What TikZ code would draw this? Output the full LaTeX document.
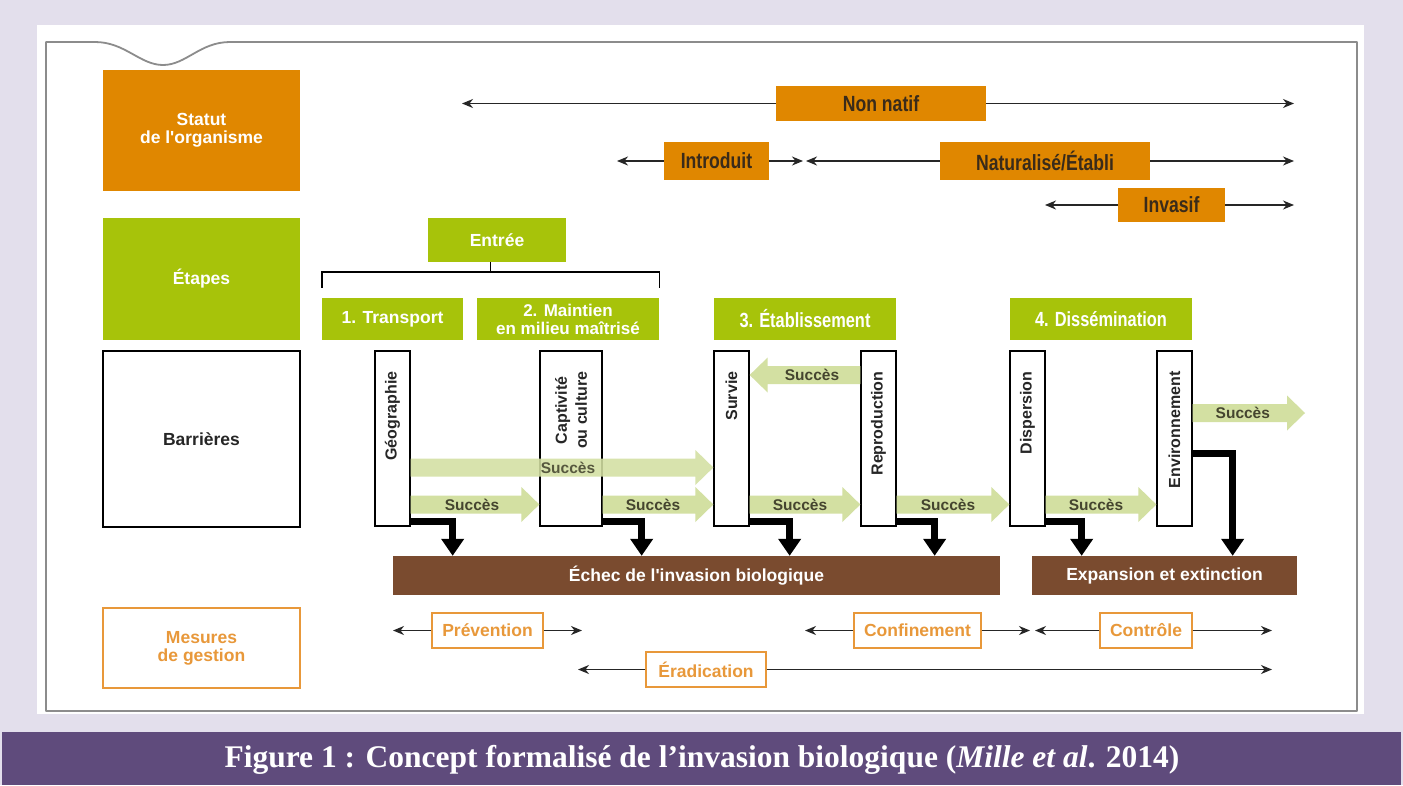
\documentclass[tikz,border=0pt]{standalone}
\usepackage{fontspec}
\usetikzlibrary{arrows.meta,calc}
\newfontfamily\dsans{Liberation Sans}
\newfontfamily\dcond[FakeStretch=0.8]{Liberation Sans}
\newfontfamily\capfont{Liberation Serif}
\definecolor{cBg}{HTML}{E3DFEC}
\definecolor{cPurple}{HTML}{5F4B7C}
\definecolor{cOrange}{HTML}{E08700}
\definecolor{cGreen}{HTML}{A7C30A}
\definecolor{cLight}{HTML}{D3E0A2}
\definecolor{cBrown}{HTML}{7A4B2F}
\definecolor{cMgmt}{HTML}{E8983A}
\definecolor{cDark}{HTML}{3A2B1A}
\definecolor{cFrame}{HTML}{8C8C8C}
\definecolor{cText}{HTML}{262626}
\definecolor{cSucc}{HTML}{45452F}
% green success arrow, rightwards: #1 start anchor, #2 tip anchor, #3 y (px), #4 label x offset
\newcommand\SuccR[4]{%
  \fill[cLight] let \p1=(#1), \p2=(#2) in
    (\x1,-#3pt+9pt) -- (\x2-18pt,-#3pt+9pt) -- (\x2-18pt,-#3pt+17.5pt) -- (\x2,-#3pt)
    -- (\x2-18pt,-#3pt-17.5pt) -- (\x2-18pt,-#3pt-9pt) -- (\x1,-#3pt-9pt) -- cycle;
  \path let \p1=(#1), \p2=(#2) in ({0.5*\x1+0.5*\x2+#4pt},-#3pt) node[succlbl] {Succès};
}
% leftwards
\newcommand\SuccL[4]{%
  \fill[cLight] let \p1=(#1), \p2=(#2) in
    (\x1,-#3pt+9pt) -- (\x2+18pt,-#3pt+9pt) -- (\x2+18pt,-#3pt+17.5pt) -- (\x2,-#3pt)
    -- (\x2+18pt,-#3pt-17.5pt) -- (\x2+18pt,-#3pt-9pt) -- (\x1,-#3pt-9pt) -- cycle;
  \path let \p1=(#1), \p2=(#2) in ({0.5*\x1+0.5*\x2+#4pt},-#3pt) node[succlbl] {Succès};
}
% black failure arrow: #1 box, #2 bar, #3 horizontal run, #4 height above box bottom
\newcommand\FailArr[4]{%
  \draw[fail] let \p1=(#1.south east), \p2=(#2.north) in (\x1,\y1+#4pt) -| (\x1+#3pt,\y2);
}
\begin{document}
\begin{tikzpicture}[x=1pt,y=1pt,
  lbl/.style={inner sep=0pt, align=center, font=\dsans\bfseries\fontsize{17.5}{18}\selectfont},
  statbox/.style={lbl, fill=cOrange, text=white},
  stepbox/.style={lbl, fill=cGreen, text=white},
  topbox/.style={fill=cOrange, text=cDark, inner sep=0pt, font=\dcond\bfseries\fontsize{22}{24}\selectfont},
  hdrcond/.style={fill=cGreen, text=white, inner sep=0pt, font=\dcond\bfseries\fontsize{20.5}{22}\selectfont},
  barrbox/.style={draw=black, line width=1.3pt, fill=white, inner sep=0pt},
  vtxt/.style={rotate=90, anchor=east, inner sep=0pt, align=center, text=cText, font=\dsans\bfseries\fontsize{16}{20}\selectfont},
  barbox/.style={lbl, fill=cBrown, text=white},
  mgmt/.style={lbl, draw=cMgmt, line width=1.4pt, text=cMgmt, fill=white},
  succlbl/.style={inner sep=0pt, text=cSucc, font=\dsans\bfseries\fontsize{15.5}{16}\selectfont},
  fail/.style={draw=black, line width=7pt, -{Triangle[width=22pt,length=17pt]}},
  tarr/.style={draw=cText, line width=1.3pt, -{Stealth[length=11pt,width=9pt,inset=3.5pt]}},
  brk/.style={draw=black, line width=1.4pt}
]
% background
\fill[cBg] (0,0) rectangle (1403,-785);
\useasboundingbox (0,0) rectangle (1403,-785);
\fill[white] (37,-25) rectangle (1364,-714);
\draw[cFrame, line width=1.8pt, line join=round]
  (46,-42) -- (95,-42) .. controls (125,-42) and (140,-65) .. (163,-65)
  .. controls (186,-65) and (200,-42) .. (230,-42) -- (1357,-42) -- (1357,-711) -- (46,-711) -- cycle;
\fill[cPurple] (2,-732) rectangle (1401,-785);
\node[inner sep=0pt, text=white, font=\capfont\bfseries\fontsize{31.5}{33}\selectfont] (cap) at (702,-760)
  {Figure 1 : Concept formalisé de l’invasion biologique (\textit{Mille et al}. 2014)};

% left column
\node[statbox, minimum width=197pt, minimum height=121pt] (statut) at (201.5,-130.5) {Statut\\de l'organisme};
\node[stepbox, minimum width=197pt, minimum height=122pt] (etapes) at (201.5,-279) {Étapes};
\node[lbl, draw=black, line width=1.3pt, text=cText, minimum width=197pt, minimum height=176pt] (barr) at (201.5,-439) {Barrières};
\node[mgmt, minimum width=197pt, minimum height=80pt] (mesures) at (201.5,-648) {Mesures\\de gestion};

% status
\node[topbox, minimum width=210pt, minimum height=35pt] (nonnatif) at (881,-103.5) {Non natif};
\node[topbox, minimum width=105pt, minimum height=38pt] (introduit) at (716.5,-161) {Introduit};
\node[topbox, minimum width=210pt, minimum height=38pt] (natur) at (1045,-161) {Naturalisé/Établi};
\node[topbox, minimum width=107pt, minimum height=34pt] (invasif) at (1171.5,-205) {Invasif};
\coordinate (nnL) at (462,-103.5); \coordinate (nnR) at (1294,-103.5);
\coordinate (inL) at (617,-161);   \coordinate (inR) at (803,-161);
\coordinate (naL) at (806,-161);   \coordinate (naR) at (1294,-161);
\coordinate (ivL) at (1045,-205);  \coordinate (ivR) at (1294,-205);
\draw[tarr] (nonnatif.west) -- (nnL);
\draw[tarr] (nonnatif.east) -- (nnR);
\draw[tarr] (introduit.west) -- (inL);
\draw[tarr] (introduit.east) -- (inR);
\draw[tarr] (natur.west) -- (naL);
\draw[tarr] (natur.east) -- (naR);
\draw[tarr] (invasif.west) -- (ivL);
\draw[tarr] (invasif.east) -- (ivR);

% stages
\node[stepbox, minimum width=138pt, minimum height=44pt] (entree) at (497,-240) {Entrée};
\node[stepbox, minimum width=141pt, minimum height=42pt] (transport) at (392.5,-319) {1. Transport};
\node[stepbox, minimum width=182pt, minimum height=42pt, font=\dsans\bfseries\fontsize{17}{18}\selectfont] (maintien) at (568,-319) {2. Maintien\\en milieu maîtrisé};
\node[hdrcond, minimum width=182pt, minimum height=42pt] (etab) at (805,-319) {3. Établissement};
\node[hdrcond, minimum width=182pt, minimum height=42pt] (dissem) at (1101,-319) {4. Dissémination};
\coordinate (brkmid) at ($(transport.north west)!0.5!(maintien.north east)+(0,26pt)$);
\draw[brk] ([yshift=10pt]transport.north west) -- ++(0,16pt) -| ([yshift=10pt]maintien.north east);
\draw[brk] (brkmid) -- (brkmid |- entree.south);

% barriers
\node[barrbox, minimum width=35pt, minimum height=175pt] (geo) at (392.5,-438.5) {};
\node[barrbox, minimum width=62pt, minimum height=175pt] (capt) at (571,-438.5) {};
\node[barrbox, minimum width=35pt, minimum height=175pt] (survie) at (731.5,-438.5) {};
\node[barrbox, minimum width=35pt, minimum height=175pt] (repro) at (878.5,-438.5) {};
\node[barrbox, minimum width=35pt, minimum height=175pt] (disp) at (1027.5,-438.5) {};
\node[barrbox, minimum width=35pt, minimum height=175pt] (env) at (1174.5,-438.5) {};
\node[vtxt] (tgeo) at ([yshift=-21pt]geo.north) {Géographie};
\node[vtxt] (tcapt) at ([yshift=-21pt]capt.north) {Captivité\\ou culture};
\node[vtxt] (tsurvie) at ([yshift=-21pt]survie.north) {Survie};
\node[vtxt] (trepro) at ([yshift=-21pt]repro.north) {Reproduction};
\node[vtxt] (tdisp) at ([yshift=-21pt]disp.north) {Dispersion};
\node[vtxt] (tenv) at ([yshift=-21pt]env.north) {Environnement};

% outcome bars
\node[barbox, minimum width=607pt, minimum height=39pt] (echec) at (696.5,-575.5) {Échec de l'invasion biologique};
\node[barbox, minimum width=265pt, minimum height=39pt] (expan) at (1164.5,-575.5) {Expansion et extinction};

% success arrows
\begin{scope}[fill opacity=0.88]
\SuccR{geo.east}{survie.west}{467.5}{6}
\end{scope}
\SuccR{geo.east}{capt.west}{504.5}{-3}
\SuccR{capt.east}{survie.west}{504.5}{-5}
\SuccR{survie.east}{repro.west}{504.5}{-5}
\SuccR{repro.east}{disp.west}{504.5}{-5}
\SuccR{disp.east}{env.west}{504.5}{-5}
\SuccL{repro.west}{survie.east}{375}{7}
\coordinate (envtip) at (1305,-413);
\SuccR{env.east}{envtip}{413}{-6}

% failure arrows
\FailArr{geo}{echec}{42}{5}
\FailArr{capt}{echec}{39}{5}
\FailArr{survie}{echec}{40}{5}
\FailArr{repro}{echec}{38}{5}
\FailArr{disp}{expan}{36}{5}
\FailArr{env}{expan}{40}{73}

% management
\node[mgmt, minimum width=111pt, minimum height=35pt] (prev) at (487.5,-630.5) {Prévention};
\node[mgmt, minimum width=127pt, minimum height=35pt] (conf) at (917.5,-630.5) {Confinement};
\node[mgmt, minimum width=92pt, minimum height=35pt] (contr) at (1146,-630.5) {Contrôle};
\node[mgmt, minimum width=120pt, minimum height=35pt] (erad) at (706,-669.5) {Éradication};
\coordinate (pvL) at (393,-630.5);  \coordinate (pvR) at (582,-630.5);
\coordinate (cfL) at (805,-630.5);  \coordinate (cfR) at (1030,-630.5);
\coordinate (ctL) at (1035,-630.5); \coordinate (ctR) at (1272,-630.5);
\coordinate (erL) at (578,-669.5);  \coordinate (erR) at (1272,-669.5);
\draw[tarr] (prev.west) -- (pvL);
\draw[tarr] (prev.east) -- (pvR);
\draw[tarr] (conf.west) -- (cfL);
\draw[tarr] (conf.east) -- (cfR);
\draw[tarr] (contr.west) -- (ctL);
\draw[tarr] (contr.east) -- (ctR);
\draw[tarr] (erad.west) -- (erL);
\draw[tarr] (erad.east) -- (erR);
\end{tikzpicture}
\end{document}
